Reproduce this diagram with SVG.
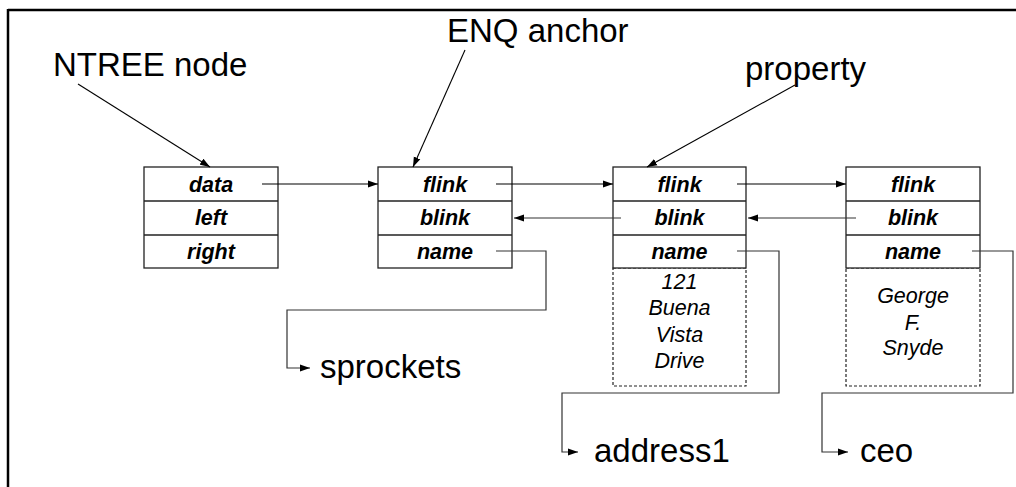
<svg xmlns="http://www.w3.org/2000/svg" width="1016" height="487" viewBox="0 0 1016 487">
<style>
.box{fill:#fff;stroke:#222;stroke-width:1.3}
.dash{fill:none;stroke:#222;stroke-width:1.2;stroke-dasharray:3,2}
.sep{stroke:#222;stroke-width:1.3}
.fld{font-family:"Liberation Sans",Arial,sans-serif;font-weight:bold;font-style:italic;font-size:21.5px;text-anchor:middle;fill:#000}
.val{font-family:"Liberation Sans",Arial,sans-serif;font-style:italic;font-size:21.5px;text-anchor:middle;fill:#000}
.lbl{font-family:"Liberation Sans",Arial,sans-serif;font-size:33px;fill:#000}
.ln{fill:none;stroke:#000;stroke-width:1.1}
.ln2{fill:none;stroke:#333;stroke-width:1.2}
</style>
<defs>
<marker id="ah" markerWidth="10" markerHeight="8" refX="10" refY="4" orient="auto" markerUnits="userSpaceOnUse">
<path d="M0,0.5 L10,4 L0,7.5 Z" fill="#000"/>
</marker>
</defs>
<rect width="1016" height="487" fill="#fff"/>
<g id="frame">
<line x1="8" y1="10" x2="1016" y2="10" stroke="#000" stroke-width="2.5"/>
<line x1="8" y1="9" x2="8" y2="487" stroke="#000" stroke-width="2.5"/>
</g>
<g id="labels">
<text class="lbl" x="53" y="76">NTREE node</text>
<text class="lbl" x="447" y="42">ENQ anchor</text>
<text class="lbl" x="745" y="80">property</text>
<text class="lbl" x="320" y="378">sprockets</text>
<text class="lbl" x="594" y="462">address1</text>
<text class="lbl" x="860" y="462">ceo</text>
</g>
<g id="ntree">
<rect class="box" x="144" y="167" width="134" height="101"/>
<line class="sep" x1="144" y1="201" x2="278" y2="201"/>
<line class="sep" x1="144" y1="235" x2="278" y2="235"/>
<text class="fld" x="211" y="192">data</text>
<text class="fld" x="211" y="225">left</text>
<text class="fld" x="211" y="259">right</text>
</g>
<g id="enq">
<rect class="box" x="378" y="167" width="134" height="101"/>
<line class="sep" x1="378" y1="201" x2="512" y2="201"/>
<line class="sep" x1="378" y1="235" x2="512" y2="235"/>
<text class="fld" x="445" y="192">flink</text>
<text class="fld" x="445" y="225">blink</text>
<text class="fld" x="445" y="259">name</text>
</g>
<g id="property">
<rect class="dash" x="613" y="268" width="133" height="118"/>
<rect class="box" x="613" y="167" width="133" height="101"/>
<line class="sep" x1="613" y1="201" x2="746" y2="201"/>
<line class="sep" x1="613" y1="235" x2="746" y2="235"/>
<text class="fld" x="679.5" y="192">flink</text>
<text class="fld" x="679.5" y="225">blink</text>
<text class="fld" x="679.5" y="259">name</text>
<text class="val" x="679.5" y="289">121</text>
<text class="val" x="679.5" y="315">Buena</text>
<text class="val" x="679.5" y="342">Vista</text>
<text class="val" x="679.5" y="368">Drive</text>
</g>
<g id="ceo">
<rect class="dash" x="846" y="268" width="134" height="118"/>
<rect class="box" x="846" y="167" width="134" height="101"/>
<line class="sep" x1="846" y1="201" x2="980" y2="201"/>
<line class="sep" x1="846" y1="235" x2="980" y2="235"/>
<text class="fld" x="913" y="192">flink</text>
<text class="fld" x="913" y="225">blink</text>
<text class="fld" x="913" y="259">name</text>
<text class="val" x="913" y="303">George</text>
<text class="val" x="913" y="330">F.</text>
<text class="val" x="913" y="355">Snyde</text>
</g>
<g id="connectors">
<line class="ln" x1="78" y1="84" x2="210" y2="167" marker-end="url(#ah)"/>
<line class="ln" x1="465" y1="50" x2="413" y2="167" marker-end="url(#ah)"/>
<line class="ln" x1="795" y1="85" x2="647" y2="167" marker-end="url(#ah)"/>
<line class="ln" x1="262" y1="184" x2="378" y2="184" marker-end="url(#ah)"/>
<line class="ln" x1="496" y1="184" x2="613" y2="184" marker-end="url(#ah)"/>
<line class="ln" x1="737" y1="184" x2="846" y2="184" marker-end="url(#ah)"/>
<line class="ln2" x1="621" y1="218" x2="514" y2="218" marker-end="url(#ah)"/>
<line class="ln2" x1="856" y1="218" x2="748" y2="218" marker-end="url(#ah)"/>
<polyline class="ln2" points="496,251 546,251 546,310 287,310 287,368 310,368" marker-end="url(#ah)"/>
<polyline class="ln2" points="737,251 779,251 779,393 562,393 562,452 578,452" marker-end="url(#ah)"/>
<polyline class="ln2" points="972,251 1013,251 1013,393 822,393 822,452 848,452" marker-end="url(#ah)"/>
</g>
</svg>
